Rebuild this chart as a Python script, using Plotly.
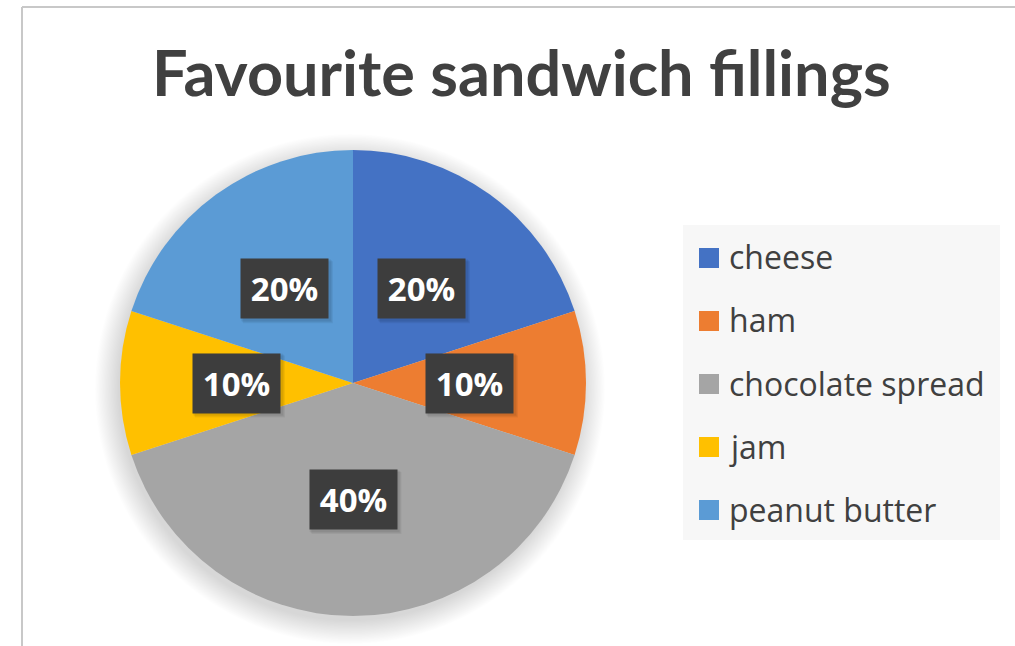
import math
import plotly.graph_objects as go

categories = ["cheese", "ham", "chocolate spread", "jam", "peanut butter"]
values = [20, 10, 40, 10, 20]
colors = ["#4472C4", "#ED7D31", "#A5A5A5", "#FFC000", "#5B9BD5"]
title_text = "Favourite sandwich fillings"

W, H = 1015, 646
cx, cy, r = 353, 383, 233


def px(x):
    return x / W


def py(y):
    return 1 - y / H


fig = go.Figure(
    go.Pie(
        labels=categories,
        values=values,
        sort=False,
        direction="clockwise",
        rotation=0,
        marker=dict(colors=colors, line=dict(width=0)),
        textinfo="none",
        hoverinfo="label+percent",
        showlegend=False,
        domain=dict(x=[px(cx - r), px(cx + r)], y=[py(cy + r), py(cy - r)]),
    )
)

shapes = []
annotations = []

# chart border (top and left visible)
shapes.append(dict(type="line", xref="paper", yref="paper", x0=px(22), x1=px(W + 5),
                   y0=py(7), y1=py(7), line=dict(color="#c8c8c8", width=2)))
shapes.append(dict(type="line", xref="paper", yref="paper", x0=px(22), x1=px(22),
                   y0=py(7), y1=py(H + 5), line=dict(color="#c8c8c8", width=2)))

# soft pie shadow
for i in range(20):
    rr = r + 22 - i * 1.2
    shapes.append(dict(type="circle", xref="paper", yref="paper", layer="below",
                       x0=px(cx - 3 - rr), x1=px(cx - 3 + rr), y0=py(cy + 6 + rr), y1=py(cy + 6 - rr),
                       fillcolor="rgba(0,0,0,0.007)", line=dict(width=0)))

# data labels
total = sum(values)
cum = 0
for v in values:
    mid = (cum + v / 2) / total * 2 * math.pi
    cum += v
    lx = cx + 0.5 * r * math.sin(mid)
    ly = cy - 0.5 * r * math.cos(mid)
    bw, bh = 89, 61
    for k, a in enumerate([0.05, 0.05, 0.05]):
        shapes.append(dict(type="rect", xref="paper", yref="paper",
                           x0=px(lx - bw / 2 + 1 + k), x1=px(lx + bw / 2 + 2 + k),
                           y0=py(ly + bh / 2 + 2 + k), y1=py(ly - bh / 2 + 1 + k),
                           fillcolor="rgba(0,0,0,%g)" % a, line=dict(width=0)))
    annotations.append(dict(xref="paper", yref="paper", x=px(lx), y=py(ly),
                            xanchor="center", yanchor="middle",
                            text="<b>%d%%</b>" % round(v / total * 100),
                            showarrow=False, width=bw - 2, height=bh - 2,
                            bgcolor="#3d3d3d", borderpad=0,
                            font=dict(family="Open Sans", size=33, color="white")))

# legend
lx0, lx1, ly0, ly1 = 683, 1000, 225, 540
shapes.append(dict(type="rect", xref="paper", yref="paper",
                   x0=px(lx0), x1=px(lx1), y0=py(ly1), y1=py(ly0),
                   fillcolor="#f7f7f7", line=dict(width=0)))
row0, gap = 258, 63
for i, (c, col) in enumerate(zip(categories, colors)):
    yc = row0 + i * gap
    shapes.append(dict(type="rect", xref="paper", yref="paper",
                       x0=px(699), x1=px(719), y0=py(yc + 10), y1=py(yc - 10),
                       fillcolor=col, line=dict(width=0)))
    annotations.append(dict(xref="paper", yref="paper", x=px(727), y=py(yc - 1),
                            xanchor="left", yanchor="middle", text=c, showarrow=False,
                            font=dict(family="Open Sans", size=32, color="#404040")))

# title
annotations.append(dict(xref="paper", yref="paper", x=px(521), y=py(71),
                        xanchor="center", yanchor="middle",
                        text="<b>" + title_text + "</b>", showarrow=False,
                        font=dict(family="Lato", size=63, color="#404040")))

fig.update_layout(
    width=W, height=H,
    margin=dict(l=0, r=0, t=0, b=0),
    paper_bgcolor="white", plot_bgcolor="white",
    shapes=shapes, annotations=annotations,
    showlegend=False,
)

fig.write_html("out.html")
